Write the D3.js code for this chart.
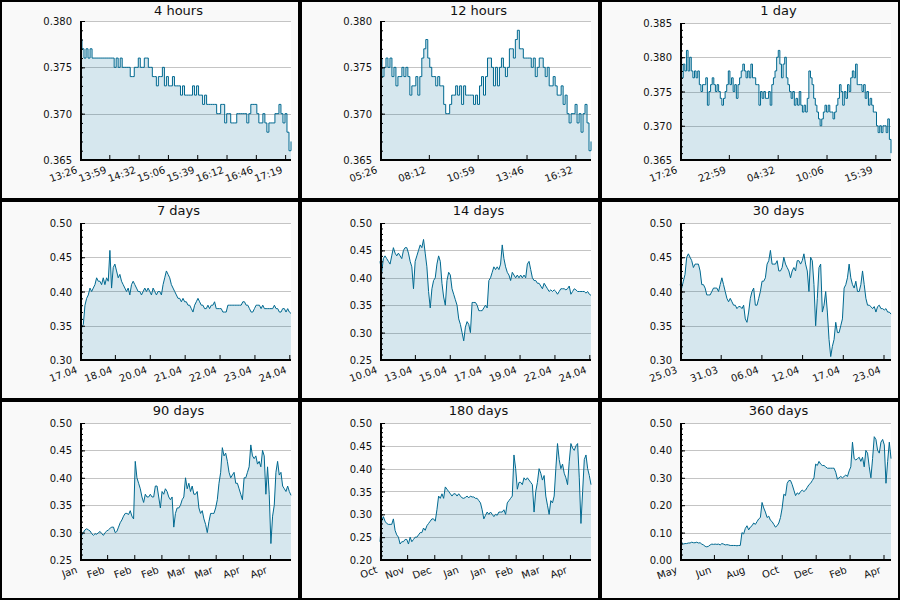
<!DOCTYPE html>
<html><head><meta charset="utf-8">
<script src="https://cdn.jsdelivr.net/npm/d3@7"></script>
<style>body{margin:0;background:#fff}svg{display:block}text{font-family:"DejaVu Sans",sans-serif}</style>
</head><body><svg id="c" width="900" height="600"></svg>
<script>
const titles = ["4 hours","12 hours","1 day","7 days","14 days","30 days","90 days","180 days","360 days"];
// time span of each panel and spacing of its x ticks, in seconds
const durations = [14400, 43200, 86400, 604800, 1209600, 2592000, 7776000, 15552000, 31104000];
const tickSteps = [2000, 10000, 20000, 100000, 200000, 500000, 1000000, 2000000, 5000000];
const xLabels = [
  ["13:26","13:59","14:32","15:06","15:39","16:12","16:46","17:19"],
  ["05:26","08:12","10:59","13:46","16:32"],
  ["17:26","22:59","04:32","10:06","15:39"],
  ["17.04","18.04","20.04","21.04","22.04","23.04","24.04"],
  ["10.04","13.04","15.04","17.04","19.04","22.04","24.04"],
  ["25.03","31.03","06.04","12.04","17.04","23.04"],
  ["Jan","Feb","Feb","Feb","Mar","Mar","Apr","Apr"],
  ["Oct","Nov","Dec","Jan","Jan","Feb","Mar","Apr"],
  ["May","Jun","Aug","Oct","Dec","Feb","Apr"]
];
const yMin   = [0.365,0.365,0.365,0.30,0.25,0.30,0.25,0.20,0.00];
const yMax   = [0.380,0.380,0.385,0.50,0.50,0.50,0.50,0.50,0.50];
const yMajor = [0.005,0.005,0.005,0.05,0.05,0.05,0.05,0.05,0.10];
const yMinor = [0.001,0.001,0.001,0.01,0.01,0.01,0.01,0.01,0.02];
const yDigits= [3,3,3,2,2,2,2,2,2];

const s4h = [0.378,0.377,0.376,0.377,0.376,0.377,0.376,0.376,0.376,0.376,0.376,0.376,0.376,0.376,0.376,0.376,0.376,
0.375,0.376,0.375,0.376,0.375,0.375,0.375,0.375,0.374,0.374,0.375,0.375,0.376,0.375,0.375,0.376,0.376,0.375,0.375,
0.374,0.374,0.373,0.374,0.374,0.375,0.373,0.374,0.373,0.373,0.374,0.373,0.373,0.373,0.372,0.373,0.372,0.372,0.372,
0.372,0.373,0.372,0.373,0.372,0.372,0.371,0.372,0.371,0.371,0.371,0.371,0.371,0.370,0.370,0.371,0.371,0.369,0.370,
0.370,0.369,0.369,0.369,0.370,0.370,0.370,0.370,0.370,0.369,0.370,0.371,0.371,0.371,0.370,0.369,0.369,0.370,0.369,
0.368,0.369,0.369,0.369,0.370,0.370,0.371,0.370,0.369,0.370,0.368,0.366,0.367];
const s12h = [0.376,0.374,0.375,0.376,0.375,0.376,0.374,0.375,0.373,0.374,0.374,0.375,0.374,0.375,0.374,0.372,0.373,
0.373,0.374,0.372,0.374,0.376,0.377,0.378,0.376,0.375,0.374,0.374,0.373,0.374,0.373,0.373,0.371,0.370,0.370,0.371,
0.372,0.372,0.373,0.372,0.373,0.371,0.373,0.372,0.372,0.372,0.372,0.371,0.372,0.371,0.373,0.374,0.372,0.374,0.376,
0.376,0.375,0.373,0.375,0.373,0.375,0.376,0.375,0.374,0.375,0.377,0.377,0.376,0.378,0.379,0.377,0.377,0.376,0.376,
0.376,0.376,0.375,0.376,0.374,0.375,0.376,0.376,0.375,0.374,0.375,0.373,0.373,0.374,0.373,0.372,0.372,0.373,0.371,
0.372,0.370,0.369,0.370,0.370,0.371,0.369,0.370,0.368,0.370,0.371,0.369,0.366,0.367];
const s1d = [0.380,0.377,0.379,0.378,0.381,0.378,0.380,0.378,0.377,0.378,0.377,0.378,0.376,0.375,0.376,0.376,0.377,
0.373,0.375,0.376,0.377,0.376,0.375,0.376,0.375,0.374,0.373,0.374,0.375,0.376,0.378,0.376,0.377,0.375,0.376,0.374,
0.376,0.377,0.378,0.379,0.378,0.377,0.378,0.377,0.379,0.377,0.377,0.376,0.376,0.373,0.375,0.374,0.375,0.374,0.374,
0.375,0.373,0.376,0.377,0.378,0.380,0.381,0.379,0.377,0.379,0.380,0.377,0.376,0.375,0.374,0.375,0.373,0.374,0.373,
0.375,0.373,0.372,0.373,0.372,0.374,0.378,0.377,0.376,0.374,0.373,0.372,0.371,0.370,0.371,0.372,0.373,0.372,0.373,
0.372,0.372,0.371,0.372,0.373,0.374,0.376,0.375,0.373,0.375,0.374,0.376,0.375,0.377,0.378,0.377,0.379,0.376,0.376,
0.376,0.375,0.376,0.374,0.375,0.373,0.374,0.373,0.372,0.372,0.370,0.369,0.370,0.369,0.370,0.370,0.369,0.371,0.368,0.366];
const s7d = [0.345,0.347,0.352,0.38,0.39,0.395,0.405,0.40,0.405,0.41,0.42,0.415,0.415,0.41,0.42,0.41,0.42,0.415,0.46,
0.405,0.435,0.44,0.43,0.42,0.425,0.415,0.41,0.405,0.40,0.405,0.395,0.41,0.415,0.41,0.405,0.40,0.40,0.395,0.40,0.405,
0.40,0.405,0.40,0.395,0.405,0.40,0.395,0.40,0.40,0.395,0.41,0.42,0.43,0.425,0.42,0.41,0.405,0.40,0.395,0.39,0.39,
0.385,0.39,0.385,0.385,0.38,0.38,0.375,0.37,0.38,0.385,0.39,0.385,0.38,0.38,0.375,0.375,0.38,0.375,0.38,0.38,0.385,
0.375,0.375,0.375,0.375,0.37,0.37,0.37,0.38,0.38,0.38,0.38,0.38,0.38,0.38,0.38,0.38,0.385,0.385,0.38,0.38,0.375,
0.37,0.37,0.375,0.38,0.38,0.38,0.375,0.38,0.375,0.375,0.375,0.375,0.375,0.375,0.38,0.375,0.375,0.37,0.37,0.375,
0.375,0.37,0.375,0.37,0.368];
const s14d = [0.43,0.41,0.435,0.44,0.435,0.43,0.425,0.44,0.455,0.445,0.44,0.445,0.44,0.435,0.45,0.455,0.455,0.445,
0.43,0.42,0.38,0.43,0.44,0.45,0.46,0.455,0.47,0.445,0.42,0.375,0.345,0.38,0.395,0.40,0.425,0.44,0.43,0.39,0.365,
0.35,0.395,0.41,0.405,0.38,0.37,0.36,0.35,0.325,0.315,0.30,0.285,0.31,0.32,0.315,0.30,0.355,0.355,0.355,0.35,0.34,
0.34,0.34,0.345,0.35,0.345,0.395,0.40,0.41,0.42,0.415,0.42,0.415,0.425,0.46,0.435,0.42,0.41,0.405,0.395,0.41,0.405,
0.40,0.405,0.40,0.405,0.40,0.405,0.40,0.425,0.43,0.415,0.40,0.395,0.395,0.39,0.39,0.385,0.38,0.39,0.385,0.38,0.375,
0.378,0.375,0.378,0.375,0.37,0.375,0.38,0.38,0.38,0.378,0.38,0.385,0.37,0.375,0.38,0.378,0.375,0.375,0.375,0.375,
0.375,0.372,0.375,0.37,0.368];
const s30d = [0.41,0.405,0.415,0.425,0.45,0.455,0.45,0.445,0.435,0.44,0.44,0.44,0.43,0.41,0.41,0.405,0.395,0.395,
0.395,0.40,0.405,0.405,0.405,0.40,0.41,0.42,0.41,0.40,0.39,0.385,0.39,0.385,0.38,0.38,0.375,0.378,0.378,0.375,0.38,
0.36,0.355,0.37,0.39,0.40,0.405,0.38,0.38,0.39,0.40,0.415,0.415,0.42,0.44,0.445,0.46,0.44,0.44,0.44,0.445,0.43,0.43,
0.435,0.45,0.44,0.435,0.43,0.42,0.43,0.435,0.43,0.445,0.445,0.44,0.445,0.455,0.44,0.43,0.40,0.45,0.445,0.41,0.35,
0.39,0.435,0.44,0.37,0.38,0.40,0.37,0.33,0.305,0.32,0.33,0.355,0.34,0.34,0.35,0.36,0.405,0.41,0.42,0.44,0.42,0.41,
0.405,0.415,0.40,0.40,0.41,0.43,0.41,0.39,0.38,0.38,0.378,0.375,0.378,0.37,0.378,0.38,0.375,0.375,0.373,0.375,0.37,
0.37,0.367];
const s90d = [0.30,0.295,0.30,0.305,0.307,0.305,0.303,0.298,0.295,0.298,0.297,0.30,0.302,0.298,0.295,0.30,0.303,0.305,
0.308,0.31,0.31,0.30,0.302,0.31,0.318,0.323,0.33,0.335,0.335,0.333,0.34,0.33,0.325,0.43,0.40,0.39,0.38,0.365,0.355,
0.37,0.365,0.365,0.37,0.365,0.365,0.385,0.385,0.365,0.345,0.375,0.37,0.38,0.375,0.365,0.36,0.365,0.31,0.335,0.345,
0.345,0.35,0.36,0.365,0.40,0.38,0.39,0.375,0.385,0.37,0.37,0.375,0.345,0.335,0.34,0.325,0.315,0.30,0.32,0.335,0.335,
0.335,0.345,0.36,0.39,0.41,0.455,0.44,0.445,0.43,0.41,0.40,0.405,0.41,0.39,0.39,0.38,0.37,0.36,0.40,0.40,0.41,0.42,
0.46,0.44,0.435,0.44,0.425,0.43,0.42,0.45,0.44,0.37,0.42,0.37,0.28,0.33,0.35,0.41,0.43,0.405,0.41,0.385,0.38,0.375,
0.385,0.375,0.368];
const s180d = [0.24,0.285,0.295,0.285,0.28,0.278,0.278,0.278,0.29,0.265,0.255,0.25,0.235,0.24,0.24,0.245,0.245,0.235,
0.25,0.24,0.245,0.25,0.25,0.255,0.26,0.26,0.27,0.265,0.275,0.28,0.285,0.29,0.29,0.285,0.31,0.34,0.335,0.345,0.335,
0.36,0.355,0.35,0.345,0.34,0.345,0.345,0.34,0.345,0.34,0.336,0.335,0.337,0.34,0.336,0.34,0.338,0.338,0.335,0.335,
0.33,0.325,0.31,0.29,0.298,0.305,0.30,0.305,0.30,0.295,0.30,0.298,0.305,0.305,0.305,0.31,0.30,0.325,0.33,0.335,0.34,
0.43,0.40,0.355,0.37,0.37,0.365,0.38,0.375,0.38,0.375,0.37,0.365,0.305,0.35,0.37,0.40,0.39,0.375,0.385,0.34,0.32,
0.30,0.33,0.325,0.34,0.40,0.455,0.42,0.40,0.41,0.39,0.38,0.365,0.415,0.455,0.445,0.44,0.45,0.455,0.38,0.28,0.35,
0.42,0.43,0.40,0.385,0.365];
const s360d = [0.07,0.065,0.058,0.06,0.06,0.062,0.062,0.065,0.063,0.063,0.065,0.062,0.063,0.058,0.055,0.05,0.048,0.05,
0.055,0.058,0.057,0.058,0.057,0.058,0.055,0.06,0.058,0.055,0.056,0.055,0.053,0.053,0.053,0.053,0.052,0.053,0.053,
0.10,0.095,0.115,0.125,0.11,0.12,0.125,0.135,0.13,0.14,0.15,0.155,0.21,0.19,0.175,0.155,0.16,0.145,0.14,0.13,0.12,
0.125,0.135,0.155,0.19,0.24,0.235,0.28,0.29,0.29,0.275,0.255,0.235,0.245,0.24,0.25,0.255,0.25,0.255,0.265,0.275,
0.28,0.29,0.30,0.35,0.345,0.36,0.35,0.345,0.345,0.34,0.335,0.335,0.335,0.335,0.335,0.32,0.295,0.30,0.305,0.30,0.305,
0.31,0.305,0.325,0.34,0.43,0.37,0.365,0.37,0.375,0.36,0.375,0.34,0.40,0.39,0.34,0.30,0.37,0.45,0.44,0.40,0.39,0.43,
0.44,0.42,0.28,0.36,0.43,0.37];
const series = [s4h,s12h,s1d,s7d,s14d,s30d,s90d,s180d,s360d];

const LINE = "#006990", FILL = "rgba(0,105,148,0.16)";
const svg = d3.select("#c");
titles.forEach((title, i) => {
  const g = svg.append("g").attr("transform", `translate(${(i % 3) * 300},${Math.floor(i / 3) * 200})`);
  g.append("rect").attr("x", 1).attr("y", 1).attr("width", 298).attr("height", 198)
    .attr("fill", "#f9f9f9").attr("stroke", "#000").attr("stroke-width", 2);
  const L = 80, R = 291, B = 160, T = i < 2 ? 21 : 23;
  g.append("rect").attr("x", L).attr("y", T).attr("width", R - L).attr("height", B - T).attr("fill", "#fff");
  const x = d3.scaleLinear().domain([0, durations[i]]).range([L, R]);
  const y = d3.scaleLinear().domain([yMin[i], yMax[i]]).range([B, T]);
  const nMaj = Math.round((yMax[i] - yMin[i]) / yMajor[i]);
  const majors = d3.range(nMaj + 1).map(k => yMin[i] + k * yMajor[i]);
  const nMin = Math.round((yMax[i] - yMin[i]) / yMinor[i]);
  const minors = d3.range(nMin + 1).map(k => yMin[i] + k * yMinor[i]);
  // grid
  g.append("g").selectAll("line").data(majors.slice(1)).join("line")
    .attr("x1", L).attr("x2", R).attr("y1", d => Math.round(y(d)) + 0.5).attr("y2", d => Math.round(y(d)) + 0.5)
    .attr("stroke", "#c4c4c4").attr("stroke-width", 1);
  const vals = series[i];
  const data = vals.map((v, k) => [k * durations[i] / (vals.length - 1), v]);
  const curve = i < 3 ? d3.curveStepAfter : d3.curveLinear;
  g.append("path").datum(data)
    .attr("d", d3.area().x(d => x(d[0])).y0(B).y1(d => y(d[1])).curve(curve))
    .attr("fill", FILL);
  g.append("path").datum(data)
    .attr("d", d3.line().x(d => x(d[0])).y(d => y(d[1])).curve(curve))
    .attr("fill", "none").attr("stroke", LINE).attr("stroke-width", 1);
  // y axis ticks
  const fmt = d3.format("." + yDigits[i] + "f");
  const ya = g.append("g").attr("transform", `translate(${L},0)`)
    .call(d3.axisLeft(y).tickValues(majors).tickSize(-5).tickSizeOuter(0).tickPadding(8).tickFormat(fmt));
  ya.select(".domain").remove();
  ya.attr("font-family", "DejaVu Sans").attr("font-size", 10);
  ya.selectAll("text").attr("fill", "#111").attr("dy", "0.35em");
  const ym = g.append("g").attr("transform", `translate(${L},0)`)
    .call(d3.axisLeft(y).tickValues(minors).tickSize(-3).tickSizeOuter(0).tickFormat(""));
  ym.select(".domain").remove();
  // x axis
  const xt = xLabels[i].map((_, k) => k * tickSteps[i]);
  const xa = g.append("g").attr("transform", `translate(0,${B})`)
    .call(d3.axisBottom(x).tickValues(xt).tickSize(-5).tickSizeOuter(0).tickFormat((d, k) => xLabels[i][k]));
  xa.select(".domain").remove();
  xa.attr("font-family", "DejaVu Sans").attr("font-size", 10);
  xa.selectAll("text").attr("y", null).attr("dy", null).attr("fill", "#111")
    .attr("text-anchor", "end").attr("transform", "translate(-2.5,12.5) rotate(-20)");
  // axis lines
  g.append("line").attr("x1", L + 1).attr("x2", L + 1).attr("y1", T).attr("y2", B + 1).attr("stroke", "#000").attr("stroke-width", 2);
  g.append("line").attr("x1", L).attr("x2", R).attr("y1", B).attr("y2", B).attr("stroke", "#000").attr("stroke-width", 2);
  // title
  g.append("text").attr("x", 178.5).attr("y", 15).attr("text-anchor", "middle")
    .attr("font-size", 13).attr("fill", "#111").text(title);
});
</script></body></html>
